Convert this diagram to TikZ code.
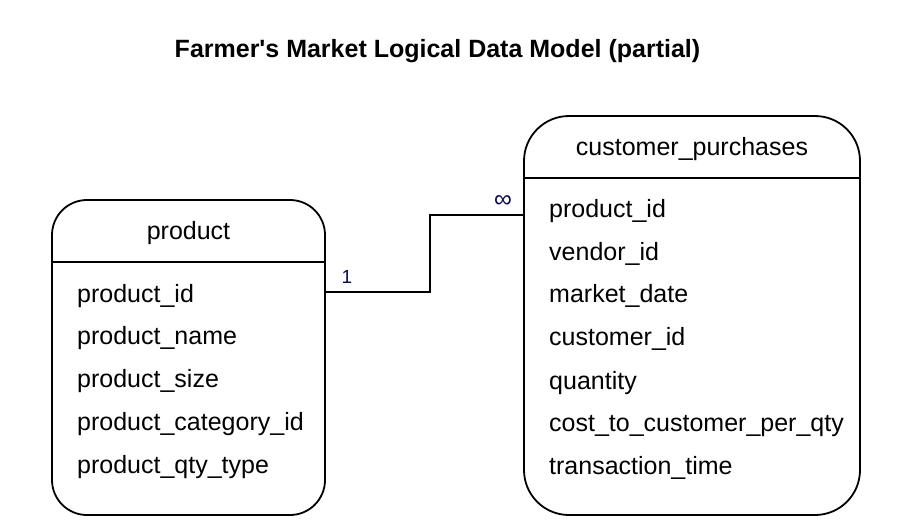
\documentclass[tikz,border=0pt]{standalone}
\usepackage{fontspec}
\setmainfont{Liberation Sans}
\usetikzlibrary{calc}
\definecolor{cardlabel}{RGB}{12,12,70}
\begin{document}
\begin{tikzpicture}[x=1pt,y=-1pt,
  entity/.style={draw=black, line width=1.8pt, rounded corners=#1, inner sep=0pt},
  field/.style={anchor=base west, inner sep=0pt, font=\fontsize{25}{30}\selectfont},
  header/.style={anchor=base, inner sep=0pt, font=\fontsize{25}{30}\selectfont},
  sep/.style={draw=black, line width=1.8pt},
  link/.style={draw=black, line width=1.8pt},
  card/.style={inner sep=0pt, text=cardlabel}
]
\useasboundingbox (0,0) rectangle (901,528);
\fill[white] (0,0) rectangle (901,528);

\node[anchor=base, inner sep=0pt, font=\fontsize{25}{30}\selectfont\bfseries] (title) at (437.5,57) {Farmer\textquotesingle s Market Logical Data Model (partial)};

% product entity
\node[entity=35pt, minimum width=273pt, minimum height=315pt] (prod) at (188.5,357.5) {};
\draw[sep] ($(prod.north west)+(0,63)$) -- ($(prod.north east)+(0,63)$);
\node[header] (prodh) at (188.5,239) {product};
\node[field] (p1) at (77,302) {product\_id};
\node[field] (p2) at (77,344.5) {product\_name};
\node[field] (p3) at (77,387) {product\_size};
\node[field] (p4) at (77,430) {product\_category\_id};
\node[field] (p5) at (77,473) {product\_qty\_type};

% customer_purchases entity
\node[entity=45pt, minimum width=336pt, minimum height=399pt] (cust) at (692,315.5) {};
\draw[sep] ($(cust.north west)+(0,63)$) -- ($(cust.north east)+(0,63)$);
\node[header] (custh) at (692,155) {customer\_purchases};
\node[field] (c1) at (549,217) {product\_id};
\node[field] (c2) at (549,260) {vendor\_id};
\node[field] (c3) at (549,302) {market\_date};
\node[field] (c4) at (549,345) {customer\_id};
\node[field] (c5) at (549,389) {quantity};
\node[field] (c6) at (549,431) {cost\_to\_customer\_per\_qty};
\node[field] (c7) at (549,474) {transaction\_time};

% relationship
\coordinate (ra) at ($(prod.north east)+(0,93)$);
\coordinate (rb) at ($(cust.north west)+(0,100)$);
\draw[link] (ra) -- (ra -| 430,0) |- (rb);
\node[card, font=\fontsize{19}{22}\selectfont] (one) at (347,277) {1};
\node[card, font=\fontsize{25}{30}\selectfont] (many) at (503,201.5) {∞};
\end{tikzpicture}
\end{document}
